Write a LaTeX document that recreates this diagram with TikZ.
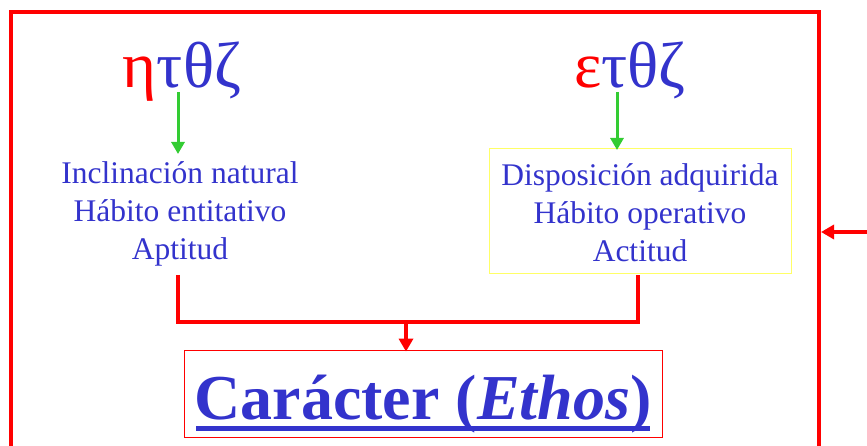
\documentclass[tikz,border=0pt]{standalone}
\usepackage{fontspec}
\setmainfont{Liberation Serif}
\usetikzlibrary{arrows.meta}
\definecolor{tblue}{RGB}{51,51,204}
\definecolor{tred}{RGB}{255,0,0}
\definecolor{tgreen}{RGB}{51,204,51}
\definecolor{tyellow}{RGB}{255,255,102}
\begin{document}
\begin{tikzpicture}[x=1pt,y=-1pt,
  greek/.style={font=\fontsize{65}{65}\selectfont, text=tblue, inner sep=0pt, anchor=base},
  body/.style={font=\fontsize{31.5}{38}\selectfont, text=tblue, align=center, inner sep=0pt},
  garrow/.style={draw=tgreen, line width=3pt, -{Triangle[length=12pt,width=13pt]}},
  rline/.style={draw=tred, line width=3.5pt},
  rarrow/.style={draw=tred, line width=3.5pt, -{Triangle[length=13pt,width=14pt]}}]
\useasboundingbox (0,0) rectangle (867,446);
\draw[tred, line width=3.5pt] (11,460) -- (11,12) -- (819,12) -- (819,460);
\node[greek] (g1) at (182,88) {\textcolor{tred}{η}τθζ};
\node[greek] (g2) at (630,88) {\textcolor{tred}{ε}τθζ};
\coordinate (g1b) at (178,92);
\coordinate (g2b) at (617,92);
\node[body] (t1) at (180,214) {Inclinación natural\\Hábito entitativo\\Aptitud};
\node[draw=tyellow, line width=1pt, minimum width=302pt, minimum height=125pt, inner sep=0pt] (box2) at (640,211) {};
\node[body] (t2) at (640,213) {Disposición adquirida\\Hábito operativo\\Actitud};
\draw[garrow] (g1b) -- (178,154);
\draw[garrow] (g2b) -- (617,150);
\coordinate (l1) at (178,275);
\coordinate (l2) at (638,275);
\coordinate (mid) at (406,322);
\draw[rline] (l1) -- (178,322) -- (638,322) -- (l2);
\node[draw=tred, line width=0.8pt, minimum width=478pt, minimum height=87pt, inner sep=0pt] (cbox) at (423,393.5) {};
\node[font=\fontsize{64}{64}\selectfont\bfseries, text=tblue, inner sep=0pt, anchor=base] (ct) at (423,419) {Carácter (\textit{Ethos})};
\fill[tblue] (196,426) rectangle (650,431);
\draw[rarrow] (mid) -- ([yshift=-2pt]cbox.north -| mid);
\coordinate (rin) at (867,232);
\draw[rarrow] (rin) -- (821,232);
\end{tikzpicture}
\end{document}
